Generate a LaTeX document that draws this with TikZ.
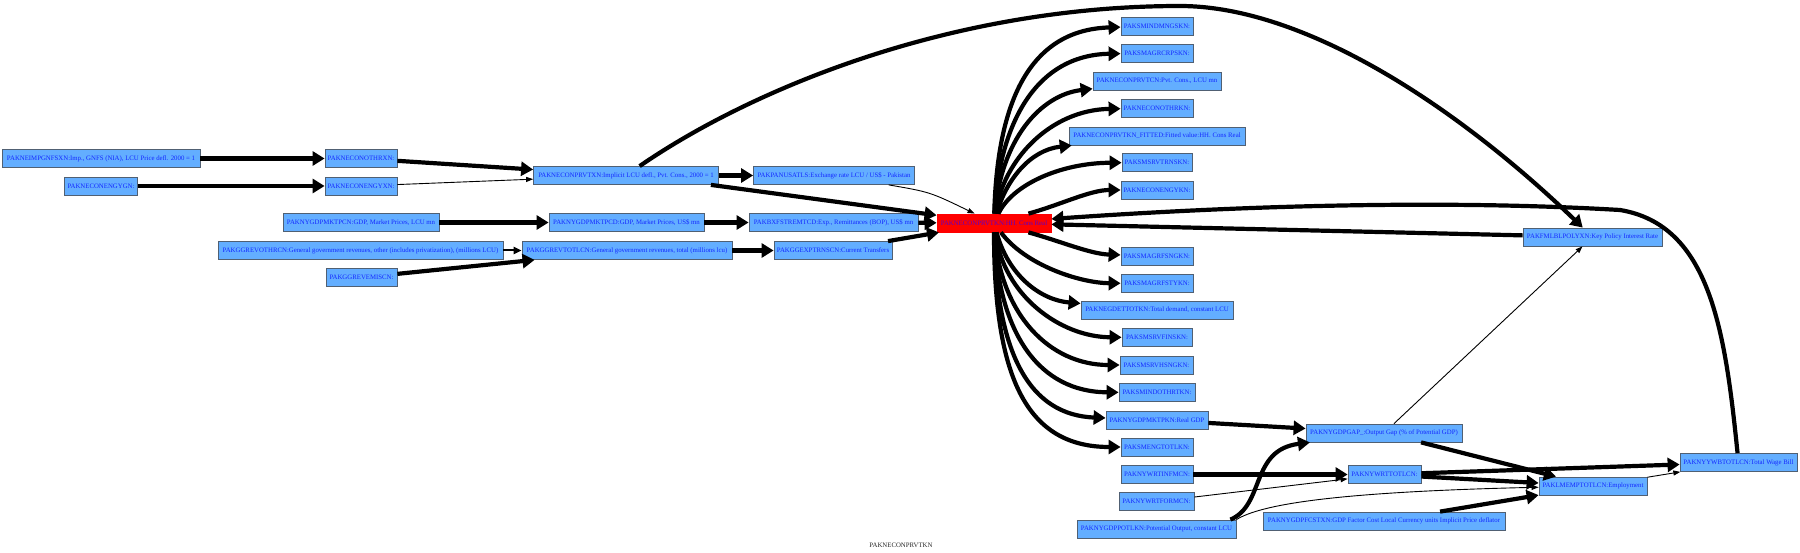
\documentclass[tikz,border=0pt]{standalone}
\usepackage{fontspec}
\setmainfont{Liberation Serif}
\usetikzlibrary{arrows.meta}
\definecolor{nodefill}{RGB}{99,174,255}
\definecolor{nodeborder}{RGB}{80,96,115}
\definecolor{nodetext}{RGB}{20,40,255}
\definecolor{redtext}{RGB}{90,0,200}
\tikzset{
  box/.style={rectangle, draw=nodeborder, fill=nodefill, text=nodetext, line width=0.8pt,
    minimum height=18pt, inner sep=1pt, font=\fontsize{6.8}{8}\selectfont},
  thk/.style={line width=4.2pt, -{Triangle[length=12pt,width=14pt]}},
  thn/.style={line width=0.9pt, -{Triangle[length=7pt,width=5pt]}},
  med/.style={line width=2pt, -{Triangle[length=8pt,width=7pt]}},
}
\begin{document}
\begin{tikzpicture}[x=1pt,y=-1pt]
\useasboundingbox (0,0) rectangle (1800,553);
% left nodes
\node[box, minimum width=198pt] (eimp) at (101,158.5) {PAKNEIMPGNFSXN:Imp., GNFS (NIA), LCU Price defl. 2000 = 1};
\node[box, minimum width=72pt] (othrxn) at (361,158.5) {PAKNECONOTHRXN:};
\node[box, minimum width=73pt] (engygn) at (101,186) {PAKNECONENGYGN:};
\node[box, minimum width=72pt] (engyxn) at (361,186) {PAKNECONENGYXN:};
\node[box, minimum width=185pt] (nxn) at (626,175.5) {PAKNECONPRVTXN:Implicit LCU defl., Pvt. Cons., 2000 = 1};
\node[box, minimum width=161pt] (panus) at (834,175.5) {PAKPANUSATLS:Exchange rate LCU / US\$ - Pakistan};
\node[box, minimum width=156pt] (pcn) at (361,222.5) {PAKNYGDPMKTPCN:GDP, Market Prices, LCU mn};
\node[box, minimum width=155pt] (pcd) at (626.5,222.5) {PAKNYGDPMKTPCD:GDP, Market Prices, US\$ mn};
\node[box, minimum width=169pt] (bxf) at (833.5,222.5) {PAKBXFSTREMTCD:Exp., Remittances (BOP), US\$ mn};
\node[box, minimum width=114pt, fill=red, draw=red, text=redtext] (red) at (994,223) {PAKNECONPRVTKN:HH. Cons Real};
\node[box, minimum width=285pt] (gothr) at (360.5,250.5) {PAKGGREVOTHRCN:General government revenues, other (includes privatization), (millions LCU)};
\node[box, minimum width=210pt] (gtot) at (627,250.5) {PAKGGREVTOTLCN:General government revenues, total (millions lcu)};
\node[box, minimum width=118pt] (gexp) at (833,250.5) {PAKGGEXPTRNSCN:Current Transfers};
\node[box, minimum width=71pt] (gemis) at (361.5,277.5) {PAKGGREVEMISCN:};
% right column
\node[box, minimum width=72pt] (t15) at (1157,26) {PAKSMINDMNGSKN:};
\node[box, minimum width=72pt] (t16) at (1157,53) {PAKSMAGRCRPSKN:};
\node[box, minimum width=128pt] (t17) at (1157,81) {PAKNECONPRVTCN:Pvt. Cons., LCU mn};
\node[box, minimum width=72pt] (t18) at (1157,108) {PAKNECONOTHRKN:};
\node[box, minimum width=176pt] (t19) at (1157,136) {PAKNECONPRVTKN\_FITTED:Fitted  value:HH. Cons Real};
\node[box, minimum width=70pt] (t20) at (1157,162.5) {PAKSMSRVTRNSKN:};
\node[box, minimum width=72pt] (t21) at (1157,190) {PAKNECONENGYKN:};
\node[box, minimum width=72pt] (t22) at (1157,256) {PAKSMAGRFSNGKN:};
\node[box, minimum width=72pt] (t23) at (1157,283.5) {PAKSMAGRFSTYKN:};
\node[box, minimum width=152pt] (t24) at (1157,310) {PAKNEGDETTOTKN:Total demand, constant LCU};
\node[box, minimum width=70pt] (t25) at (1157,337.5) {PAKSMSRVFINSKN:};
\node[box, minimum width=73pt] (t26) at (1156.5,365) {PAKSMSRVHSNGKN:};
\node[box, minimum width=76pt] (t27) at (1157,392.5) {PAKSMINDOTHRTKN:};
\node[box, minimum width=102pt] (t28) at (1157,420) {PAKNYGDPMKTPKN:Real GDP};
\node[box, minimum width=72pt] (t29) at (1157,447) {PAKSMENGTOTLKN:};
\node[box, minimum width=72pt] (inf) at (1157,474.5) {PAKNYWRTINFMCN:};
\node[box, minimum width=75pt] (form) at (1156.5,501.5) {PAKNYWRTFORMCN:};
\node[box, minimum width=159pt] (pot) at (1156.5,529) {PAKNYGDPPOTLKN:Potential Output, constant LCU};
\node[box, minimum width=156pt] (gap) at (1384,433) {PAKNYGDPGAP\_:Output Gap (\% of Potential GDP)};
\node[box, minimum width=73pt] (wrt) at (1384.5,474.5) {PAKNYWRTTOTLCN:};
\node[box, minimum width=242pt] (fcs) at (1384,521) {PAKNYGDPFCSTXN:GDP Factor Cost Local Currency units Implicit Price deflator};
\node[box, minimum width=108pt] (lme) at (1593,486) {PAKLMEMPTOTLCN:Employment};
\node[box, minimum width=117pt] (wb) at (1738.5,462.5) {PAKNYYWBTOTLCN:Total Wage Bill};
\node[box, minimum width=139pt] (fml) at (1592.5,237) {PAKFMLBLPOLYXN:Key Policy Interest Rate};
\node[font=\fontsize{6.8}{8}\selectfont, text=black!85] (title) at (901,545) {PAKNECONPRVTKN};
% left edges
\draw[thk] (eimp) -- (othrxn);
\draw[thk] (engygn) -- (engyxn);
\draw[thk] (othrxn) -- (nxn);
\draw[thn] (engyxn) -- (nxn);
\draw[thk] (nxn) -- (panus);
\draw[thk] ([xshift=-8pt]nxn.south east) -- (red);
\draw[thn] (panus) .. controls (930,192) .. (red);
\draw[thk] (nxn) .. controls (750,90) and (950,6) .. (1180,6) .. controls (1300,6) and (1450,100) .. (fml);
\draw[thk] (pcn) -- (pcd);
\draw[thk] (pcd) -- (bxf);
\draw[thk] (bxf) -- (red);
\draw[med] (gothr) -- (gtot);
\draw[thk] (gemis) -- (gtot);
\draw[thk] (gtot) -- (gexp);
\draw[thk] (gexp) -- (red);
% fan
\draw[thk] (red) .. controls (997,110) and (1025,30) .. (t15);
\draw[thk] (red) .. controls (999,125) and (1035,55) .. (t16);
\draw[thk] (red) .. controls (1001,140) and (1040,95) .. (t17);
\draw[thk] (red) .. controls (1003,160) and (1050,110) .. (t18);
\draw[thk] (red) .. controls (1006,180) and (1030,150) .. (t19);
\draw[thk] (red) .. controls (1012,185) and (1060,163) .. (t20);
\draw[thk] (red) .. controls (1060,205) and (1090,190) .. (t21);
\draw[thk] (red) .. controls (1060,241) and (1090,254) .. (t22);
\draw[thk] (red) .. controls (1025,265) and (1080,283) .. (t23);
\draw[thk] (red) .. controls (1008,275) and (1040,300) .. (t24);
\draw[thk] (red) .. controls (1003,295) and (1060,337) .. (t25);
\draw[thk] (red) .. controls (1000,315) and (1050,365) .. (t26);
\draw[thk] (red) .. controls (998,335) and (1040,392) .. (t27);
\draw[thk] (red) .. controls (996,355) and (1030,415) .. (t28);
\draw[thk] (red) .. controls (994,375) and (1025,447) .. (t29);
% right edges
\draw[thk] (fml) -- (red);
\draw[thk] (wb) .. controls (1725,330) and (1710,225) .. (1620,210) .. controls (1450,200) and (1250,205) .. (red);
\draw[thn] (gap) -- (fml);
\draw[thk] (t28) -- (gap);
\draw[thk] ([xshift=-6pt]pot.north east) .. controls (1265,505) and (1250,450) .. (gap);
\draw[thn] (pot.north east) .. controls (1260,505) and (1330,492) .. (lme);
\draw[thk] (inf) -- (wrt);
\draw[thn] (form) -- (wrt);
\draw[thk] (wrt) -- (lme);
\draw[thk] (wrt) -- (wb);
\draw[thk] (gap) -- (lme);
\draw[thk] (fcs) -- (lme);
\draw[thn] (lme) -- (wb);
\end{tikzpicture}
\end{document}
